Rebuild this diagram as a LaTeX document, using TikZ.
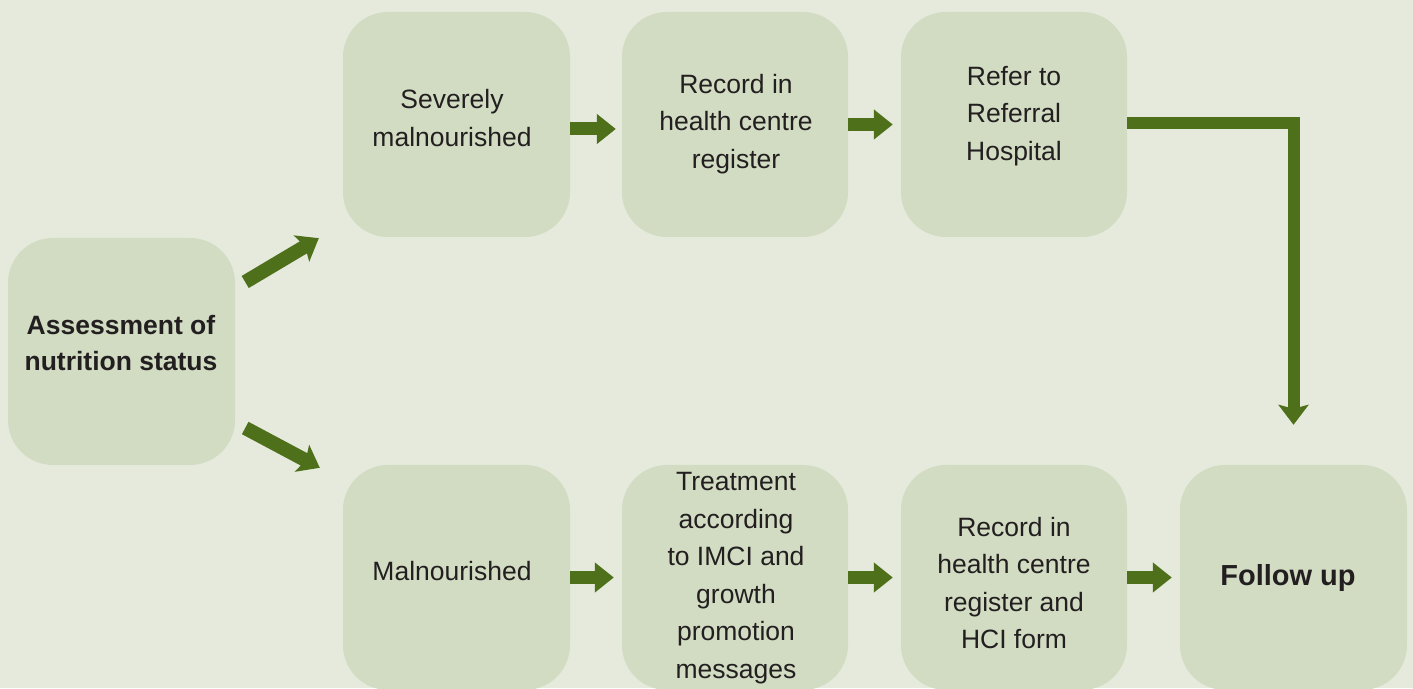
\documentclass[tikz,border=0pt]{standalone}
\usepackage{fontspec}
\setmainfont{Liberation Sans}
\usetikzlibrary{arrows.meta,calc}
\definecolor{bgc}{HTML}{E5EADC}
\definecolor{boxc}{HTML}{D1DCC2}
\definecolor{arrc}{HTML}{4F701A}
\definecolor{txtc}{HTML}{231F20}
\tikzset{
  stepbox/.style={draw=none,fill=boxc,rounded corners=45pt,minimum height=225pt,inner sep=0pt},
  boxtext/.style={align=center,text=txtc,inner sep=0pt,font=\fontsize{26.5}{37.5}\selectfont},
  flatarr/.style={draw=arrc,line width=13pt,-{Triangle[length=19pt,width=29pt]}},
  bentarr/.style={draw=arrc,line width=14pt,line join=miter,-{Stealth[length=20pt,width=30pt,inset=4pt]}}
}
\begin{document}
\begin{tikzpicture}[x=1pt,y=1pt]
\fill[bgc] (0,0) rectangle (1413,688);
\useasboundingbox (0,0) rectangle (1413,688);
\begin{scope}
\clip (0,0) rectangle (1413,688);
% boxes
\node[stepbox,minimum width=227pt,minimum height=227pt] (assess) at (121.5,336.5) {};
\node[stepbox,minimum width=227pt] (sev) at (456.5,563.5) {};
\node[stepbox,minimum width=226pt] (rec1) at (735,563.5) {};
\node[stepbox,minimum width=226pt] (ref) at (1014,563.5) {};
\node[stepbox,minimum width=227pt] (mal) at (456.5,110.5) {};
\node[stepbox,minimum width=226pt] (treat) at (735,110.5) {};
\node[stepbox,minimum width=226pt] (rec2) at (1014,110.5) {};
\node[stepbox,minimum width=227pt] (fol) at (1293.5,110.5) {};
% labels
\node[boxtext,font=\bfseries\fontsize{26.5}{36}\selectfont] (tassess) at (121,345) {Assessment of\\nutrition status};
\node[boxtext] (tsev) at (452,570) {Severely\\malnourished};
\node[boxtext] (trec1) at (736,564) {Record in\\health centre\\register};
\node[boxtext] (tref) at (1014,572) {Refer to\\Referral\\Hospital};
\node[boxtext] (tmal) at (452,117) {Malnourished};
\node[boxtext] (ttreat) at (736,110) {Treatment\\according\\to IMCI and\\growth\\promotion\\messages};
\node[boxtext] (trec2) at (1014,105) {Record in\\health centre\\register and\\HCI form};
\node[boxtext,font=\bfseries\fontsize{29}{36}\selectfont] (tfol) at (1288,110) {Follow up};
\end{scope}
% connectors
\draw[flatarr,shorten >=6pt] ([yshift=-4.5pt]sev.east) -- ([yshift=-4.5pt]rec1.west);
\draw[flatarr,shorten >=8pt] (rec1.east) -- (ref.west);
\draw[flatarr,shorten >=8pt] (mal.east) -- (treat.west);
\draw[flatarr,shorten >=8pt] (treat.east) -- (rec2.west);
\draw[flatarr,shorten >=8pt] (rec2.east) -- (fol.west);
\draw[bentarr] ($(assess.east)+(10,69.5)$) -- ($(sev.south west)+(-24,-1)$);
\draw[bentarr] ($(assess.east)+(10,-76.5)$) -- ($(mal.north west)+(-23,-3)$);
\draw[bentarr,line width=12pt,shorten >=40pt] ([yshift=1.5pt]ref.east) -| (fol.north);
\end{tikzpicture}
\end{document}
